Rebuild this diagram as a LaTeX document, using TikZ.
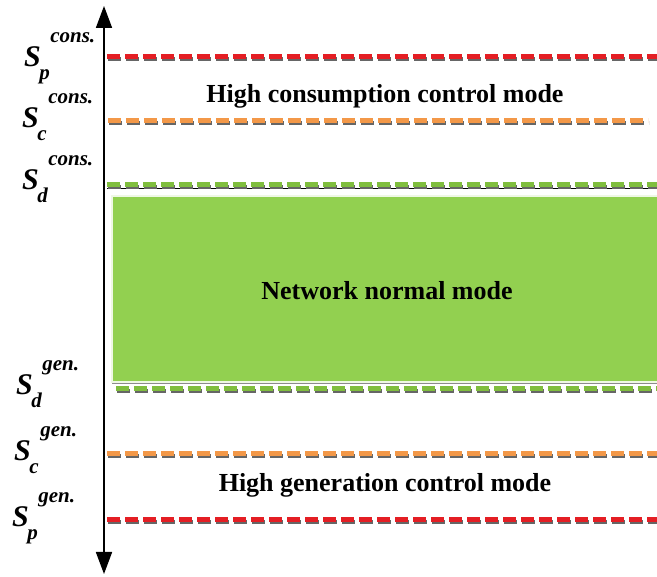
\documentclass[tikz,border=0pt]{standalone}
\usepackage{fontspec}
\setmainfont{Liberation Serif}
\usepackage{xcolor}
\usetikzlibrary{arrows.meta}

\definecolor{lvlred}{RGB}{228,30,36}
\definecolor{lvlorange}{RGB}{243,152,72}
\definecolor{lvlgreen}{RGB}{128,190,62}
\definecolor{modegreen}{RGB}{146,208,80}

\newcommand{\lvlname}[4]{% name, base point, subscript, superscript
\node [slbl,anchor=base west] (#1) at #2 {S};
\node [sidx,anchor=base west] (#1-sub) at ([xshift=-2pt,yshift=-13pt]#1.base east) {#3};
\node [sidx,anchor=base west] (#1-sup) at ([xshift=9pt,yshift=24pt]#1.base east) {#4};
}

\begin{document}
\begin{tikzpicture}[x=1pt,y=-1pt,
  axis/.style={line width=1.8pt,{Triangle[width=16pt,length=22pt]}-{Triangle[width=16pt,length=22pt]}},
  lvl/.style={line width=5pt,dash pattern=on 13pt off 5pt},
  lvlshadow/.style={lvl,black!60,line width=4pt,transform canvas={xshift=1pt,yshift=-1.6pt}},
  slbl/.style={inner sep=0pt,font=\fontsize{30}{30}\selectfont\bfseries\itshape},
  sidx/.style={inner sep=0pt,font=\fontsize{21}{21}\selectfont\bfseries\itshape},
  modetxt/.style={inner sep=0pt,anchor=base,font=\fontsize{26}{26}\selectfont\bfseries}]
\useasboundingbox (0,0) rectangle (657,577);

% normal mode band
\fill [black!45] (112,196) rectangle (657,384);
\node [draw=white!85!modegreen,line width=2pt,fill=modegreen,inner sep=0pt,
       minimum width=546pt,minimum height=186pt,anchor=north west] (band) at (111,195) {};

% level lines
\begin{scope}
\coordinate (pcons-l) at (107,57);  \coordinate (pcons-r) at (657,57);
\coordinate (ccons-l) at (108,121); \coordinate (ccons-r) at (648,121);
\coordinate (dcons-l) at (107,185); \coordinate (dcons-r) at (657,185);
\coordinate (dgen-l)  at (116,389); \coordinate (dgen-r)  at (657,389);
\coordinate (cgen-l)  at (107,454); \coordinate (cgen-r)  at (657,454);
\coordinate (pgen-l)  at (107,520); \coordinate (pgen-r)  at (657,520);
\end{scope}
\draw [black,line width=1.2pt] (107,188.5) -- (657,188.5);
\foreach \l in {pcons,ccons,dcons,dgen,cgen,pgen}
  \draw [lvlshadow] (\l-l) -- (\l-r);
\draw [lvl,lvlred] (pcons-l) -- (pcons-r);
\draw [lvl,lvlorange] (ccons-l) -- (ccons-r);
\draw [lvl,lvlgreen] (dcons-l) -- (dcons-r);
\draw [lvl,lvlgreen] (dgen-l) -- (dgen-r);
\draw [lvl,lvlorange] (cgen-l) -- (cgen-r);
\draw [lvl,lvlred] (pgen-l) -- (pgen-r);

% axis
\coordinate (top) at (104,6);
\coordinate (bot) at (104,574);
\draw [axis] (bot) -- (top);

% mode names
\node [modetxt] (cons) at (385,103) {High consumption control mode};
\node [modetxt] (norm) at (387,300) {Network normal mode};
\node [modetxt] (gen) at (385,492) {High generation control mode};

% level names
\lvlname{Spc}{(24,67)}{p}{cons.}
\lvlname{Scc}{(22,128)}{c}{cons.}
\lvlname{Sdc}{(22,190)}{d}{cons.}
\lvlname{Sdg}{(16,395)}{d}{gen.}
\lvlname{Scg}{(14,461)}{c}{gen.}
\lvlname{Spg}{(12,527)}{p}{gen.}
\end{tikzpicture}
\end{document}
